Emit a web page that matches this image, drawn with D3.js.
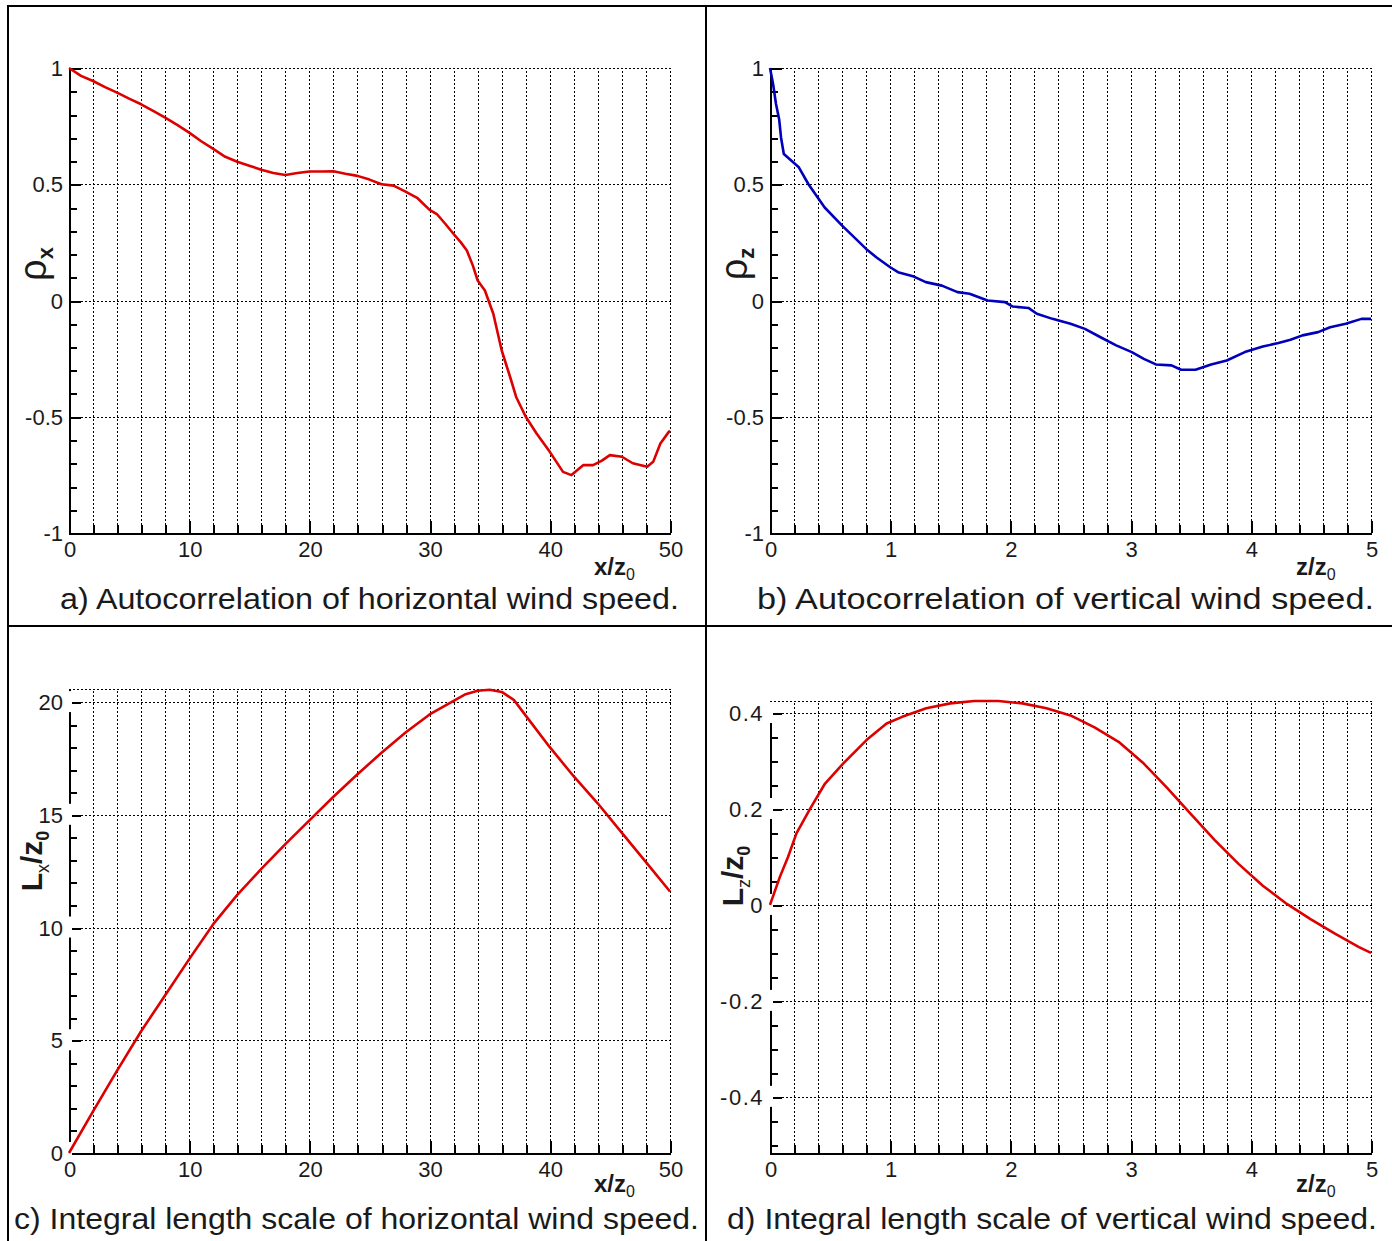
<!DOCTYPE html>
<html>
<head>
<meta charset="utf-8">
<script src="https://cdn.jsdelivr.net/npm/d3@7/dist/d3.min.js"></script>
<style>
  html, body { margin: 0; padding: 0; background: #fff; }
  svg { display: block; }
  text { font-family: "Liberation Sans", Arial, sans-serif; fill: #1a1a1a; }
</style>
</head>
<body>
<svg id="fig" width="1392" height="1241"></svg>
<script>
// ---- a) autocorrelation of horizontal wind speed: rho_x vs x/z0
const rhoXPos = [0,1,2,3,4,5,6,7,8,9,10,11,12,13,14,15,16,17,18,19,20,21,22,23,24,25,26,27,28,29,30,30.6,31.3,32,32.6,33.1,33.6,34,34.6,35.3,36,36.7,37.2,38,38.9,40,41.1,41.8,42.8,43.6,44.3,45,46,46.9,48.1,48.6,49.2,49.9,50];
const rhoXVal = [1.0,0.966,0.944,0.918,0.894,0.868,0.844,0.816,0.787,0.755,0.722,0.685,0.652,0.618,0.597,0.58,0.562,0.548,0.54,0.548,0.555,0.555,0.556,0.545,0.536,0.52,0.50,0.494,0.468,0.44,0.39,0.372,0.33,0.286,0.25,0.215,0.15,0.086,0.043,-0.057,-0.215,-0.329,-0.415,-0.50,-0.572,-0.651,-0.737,-0.751,-0.708,-0.708,-0.69,-0.665,-0.672,-0.70,-0.715,-0.694,-0.615,-0.565,-0.56];

// ---- b) autocorrelation of vertical wind speed: rho_z vs z/z0
const rhoZPos = [0,0.026,0.05,0.076,0.092,0.115,0.24,0.32,0.455,0.60,0.80,0.884,1.0,1.065,1.197,1.296,1.43,1.56,1.66,1.81,1.955,2.02,2.15,2.22,2.35,2.5,2.62,2.75,2.88,3.01,3.11,3.21,3.34,3.42,3.54,3.67,3.80,3.95,4.10,4.23,4.33,4.43,4.56,4.66,4.79,4.92,5.0];
const rhoZVal = [1.0,0.93,0.845,0.78,0.70,0.63,0.573,0.50,0.40,0.322,0.222,0.186,0.143,0.122,0.103,0.079,0.064,0.036,0.029,0.0,-0.007,-0.026,-0.032,-0.057,-0.079,-0.10,-0.122,-0.158,-0.193,-0.222,-0.251,-0.275,-0.279,-0.298,-0.298,-0.275,-0.258,-0.222,-0.198,-0.183,-0.169,-0.150,-0.136,-0.115,-0.10,-0.079,-0.079];

// ---- c) integral length scale of horizontal wind speed: Lx/z0 vs x/z0
const lxPos = [0,2,4,6,8,10,12,14,16,18,20,22,24,26,28,30,32,33,34,35,36,37,38,40,42,44,46,48,50];
const lxVal = [0,1.85,3.65,5.4,7.0,8.6,10.15,11.45,12.6,13.7,14.75,15.8,16.8,17.75,18.65,19.45,20.05,20.35,20.5,20.55,20.45,20.1,19.4,18.0,16.7,15.5,14.2,12.9,11.6];

// ---- d) integral length scale of vertical wind speed: Lz/z0 vs z/z0
const lzPos = [0,0.083,0.15,0.22,0.333,0.458,0.61,0.805,0.97,1.1,1.3,1.5,1.7,1.9,2.1,2.3,2.5,2.7,2.9,3.1,3.3,3.5,3.7,3.9,4.1,4.3,4.5,4.7,4.9,5.0];
const lzVal = [0,0.059,0.10,0.149,0.20,0.253,0.295,0.344,0.378,0.392,0.41,0.42,0.425,0.425,0.42,0.41,0.395,0.37,0.34,0.297,0.245,0.19,0.135,0.085,0.04,0.002,-0.03,-0.06,-0.088,-0.10];

// ---- axis tick labels
const xLabelsLong = ["0","10","20","30","40","50"];
const xLabelsShort = ["0","1","2","3","4","5"];
const yLabelsRho = ["-1","-0.5","0","0.5","1"];
const yLabelsLx = ["0","5","10","15","20"];
const yLabelsLz = ["-0.4","-0.2","0","0.2","0.4"];

// ---- captions
const captions = [
  "a) Autocorrelation of horizontal wind speed.",
  "b) Autocorrelation of vertical wind speed.",
  "c) Integral length scale of horizontal wind speed.",
  "d) Integral length scale of vertical wind speed."
];

const svg = d3.select("#fig");
const RED = "#dd0000", BLUE = "#0000bb";

function steps(lo, hi, step) {
  const out = [];
  const n0 = Math.ceil(lo / step - 1e-9), n1 = Math.floor(hi / step + 1e-9);
  for (let i = n0; i <= n1; i++) out.push(Math.round(i * step * 1e6) / 1e6);
  return out;
}

function panel(cfg) {
  const g = svg.append("g");
  const x = d3.scaleLinear().domain(cfg.xDom).range([cfg.left, cfg.right]);
  const y = d3.scaleLinear().domain(cfg.yDom).range([cfg.bottom, cfg.top]);
  const xMinor = steps(cfg.xDom[0], cfg.xDom[1], cfg.xMinor);
  const xMajor = steps(cfg.xDom[0], cfg.xDom[1], cfg.xMajor);
  const yMinor = steps(cfg.yDom[0], cfg.yDom[1], cfg.yMinor);
  const yMajor = steps(cfg.yDom[0], cfg.yDom[1], cfg.yMajor);
  const px = v => Math.round(x(v)) + 0.5;
  const py = v => Math.round(y(v)) + 0.5;

  // dotted grid
  const grid = g.append("g").attr("stroke", "#000").attr("stroke-width", 1.3)
    .attr("stroke-dasharray", "2,2").attr("shape-rendering", "crispEdges");
  grid.selectAll(".gv").data(xMinor.filter(v => v !== cfg.xDom[0])).join("line")
    .attr("x1", d => px(d)).attr("x2", d => px(d))
    .attr("y1", Math.round(y(cfg.yDom[0]))).attr("y2", Math.round(y(cfg.yDom[1])));
  const hLines = yMajor.filter(v => v !== cfg.yDom[0]);
  if (!hLines.includes(cfg.yDom[1])) hLines.push(cfg.yDom[1]);
  grid.selectAll(".gh").data(hLines).join("line")
    .attr("y1", d => py(d)).attr("y2", d => py(d))
    .attr("x1", Math.round(x(cfg.xDom[0]))).attr("x2", Math.round(x(cfg.xDom[1])) + 1);

  // solid axes
  const ax = g.append("g").attr("stroke", "#000").attr("shape-rendering", "crispEdges");
  const x0 = Math.round(x(cfg.xDom[0])), yb = Math.round(y(cfg.yDom[0]));
  ax.append("line").attr("x1", x0 + 1).attr("x2", x0 + 1)
    .attr("y1", Math.round(y(cfg.yDom[1]))).attr("y2", yb + 2).attr("stroke-width", 2);
  ax.append("line").attr("x1", x0).attr("x2", Math.round(x(cfg.xDom[1])) + 1)
    .attr("y1", yb + 1).attr("y2", yb + 1).attr("stroke-width", 2);

  // white patches behind y labels that cut the axis line
  if (cfg.labelGap) {
    g.selectAll(".gap").data(yMajor).join("rect")
      .attr("x", x0 - 2).attr("width", 5)
      .attr("y", d => y(d) - 11).attr("height", 21).attr("fill", "#fff");
  }

  // ticks (pointing into the plot)
  ax.selectAll(".tyn").data(yMinor).join("line")
    .attr("x1", x0).attr("x2", x0 + 8).attr("y1", d => py(d)).attr("y2", d => py(d))
    .attr("stroke-width", 2);
  ax.selectAll(".tyj").data(yMajor).join("line")
    .attr("x1", x0).attr("x2", x0 + 12).attr("y1", d => py(d)).attr("y2", d => py(d))
    .attr("stroke-width", 2);
  ax.selectAll(".txn").data(xMinor).join("line")
    .attr("x1", d => px(d)).attr("x2", d => px(d)).attr("y1", yb).attr("y2", yb - 8)
    .attr("stroke-width", 2);
  ax.selectAll(".txj").data(xMajor).join("line")
    .attr("x1", d => px(d)).attr("x2", d => px(d)).attr("y1", yb).attr("y2", yb - 12)
    .attr("stroke-width", 2);

  // tick labels
  g.selectAll(".lx").data(xMajor).join("text")
    .attr("x", d => x(d) + 1).attr("y", yb + 24)
    .attr("text-anchor", "middle").attr("font-size", 22)
    .text((d, i) => cfg.xLabels[i]);
  g.selectAll(".ly").data(yMajor).join("text")
    .attr("x", x0 - 6).attr("y", d => y(d) + 8)
    .attr("text-anchor", "end").attr("font-size", 22)
    .attr("letter-spacing", cfg.yLetterSpacing || 0)
    .text((d, i) => cfg.yLabels[i]);

  // curve
  const pts = cfg.pos.map((p, i) => [p, cfg.val[i]]);
  g.append("path").datum(pts)
    .attr("fill", "none").attr("stroke", cfg.color).attr("stroke-width", 2.6)
    .attr("stroke-linejoin", "round")
    .attr("d", d3.line().x(d => x(d[0])).y(d => y(d[1])));

  // x-axis title
  const xt = g.append("text").attr("x", cfg.xTitleX).attr("y", yb + cfg.xTitleDy)
    .attr("font-size", 24).attr("font-weight", "bold");
  xt.append("tspan").text(cfg.xTitle);
  xt.append("tspan").attr("dy", 5).attr("font-size", 16).attr("font-weight", "normal").text("0");

  // y-axis title (rotated)
  const yt = g.append("text")
    .attr("transform", `translate(${cfg.yTitleX},${cfg.yTitleY}) rotate(-90)`)
    .attr("text-anchor", "middle");
  cfg.yTitle(yt);

  // caption
  g.append("text").attr("x", cfg.capX).attr("y", cfg.capY)
    .attr("font-size", 30).attr("textLength", cfg.capLen).attr("lengthAdjust", "spacingAndGlyphs")
    .text(cfg.caption);
}

function rhoTitle(sub) {
  return t => {
    t.append("tspan").attr("font-size", 38).text("ρ");
    t.append("tspan").attr("font-size", 22).attr("font-weight", "bold").attr("dy", 7).text(sub);
  };
}
function lenTitle(sub) {
  return t => {
    t.attr("font-weight", "bold");
    t.append("tspan").attr("font-size", 30).text("L");
    t.append("tspan").attr("font-size", 18).attr("font-weight", "normal").attr("dy", 7).text(sub);
    t.append("tspan").attr("font-size", 30).attr("dy", -7).text("/z");
    t.append("tspan").attr("font-size", 18).attr("dy", 7).text("0");
  };
}

panel({ left: 69, right: 670, top: 68, bottom: 533,
  xDom: [0, 50], yDom: [-1, 1], xMajor: 10, xMinor: 2, yMajor: 0.5, yMinor: 0.1,
  xLabels: xLabelsLong, yLabels: yLabelsRho, pos: rhoXPos, val: rhoXVal, color: RED,
  xTitle: "x/z", xTitleX: 594, xTitleDy: 42, yTitle: rhoTitle("x"), yTitleX: 46, yTitleY: 264,
  caption: captions[0], capX: 60, capY: 609, capLen: 619 });

panel({ left: 770, right: 1371, top: 68, bottom: 533,
  xDom: [0, 5], yDom: [-1, 1], xMajor: 1, xMinor: 0.2, yMajor: 0.5, yMinor: 0.1,
  xLabels: xLabelsShort, yLabels: yLabelsRho, pos: rhoZPos, val: rhoZVal, color: BLUE,
  xTitle: "z/z", xTitleX: 1296, xTitleDy: 42, yTitle: rhoTitle("z"), yTitleX: 747, yTitleY: 264,
  caption: captions[1], capX: 757, capY: 609, capLen: 617 });

panel({ left: 69, right: 670, top: 689, bottom: 1153,
  xDom: [0, 50], yDom: [0, 20.58], xMajor: 10, xMinor: 2, yMajor: 5, yMinor: 1,
  xLabels: xLabelsLong, yLabels: yLabelsLx, pos: lxPos, val: lxVal, color: RED, labelGap: true,
  xTitle: "x/z", xTitleX: 594, xTitleDy: 39, yTitle: lenTitle("x"), yTitleX: 42, yTitleY: 861,
  caption: captions[2], capX: 14, capY: 1229, capLen: 685 });

panel({ left: 770, right: 1371, top: 701, bottom: 1153,
  xDom: [0, 5], yDom: [-0.517, 0.425], xMajor: 1, xMinor: 0.2, yMajor: 0.2, yMinor: 0.05,
  xLabels: xLabelsShort, yLabels: yLabelsLz, pos: lzPos, val: lzVal, color: RED, labelGap: true,
  yLetterSpacing: 1.5,
  xTitle: "z/z", xTitleX: 1296, xTitleDy: 39, yTitle: lenTitle("z"), yTitleX: 743, yTitleY: 876,
  caption: captions[3], capX: 727, capY: 1229, capLen: 650 });

// frame lines separating the four panels
const frame = svg.append("g").attr("stroke", "#000").attr("stroke-width", 2).attr("shape-rendering", "crispEdges");
frame.append("line").attr("x1", 8).attr("x2", 8).attr("y1", 5).attr("y2", 1241);
frame.append("line").attr("x1", 7).attr("x2", 1392).attr("y1", 6).attr("y2", 6);
frame.append("line").attr("x1", 706).attr("x2", 706).attr("y1", 5).attr("y2", 1241);
frame.append("line").attr("x1", 7).attr("x2", 1392).attr("y1", 626).attr("y2", 626);
</script>
</body>
</html>
